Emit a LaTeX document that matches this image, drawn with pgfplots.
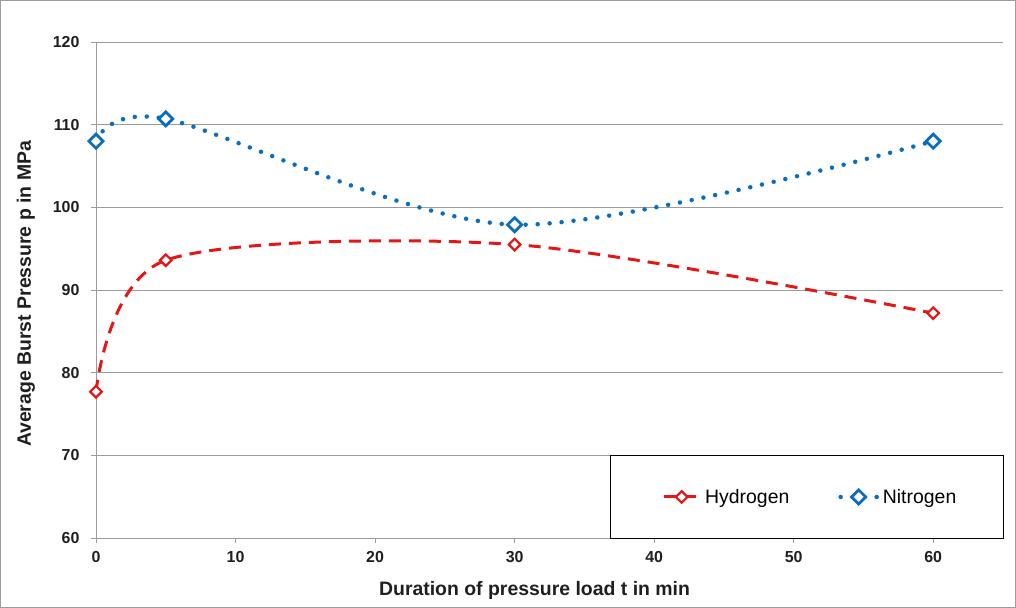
\documentclass[border=0pt]{standalone}
\usepackage{pgfplots}
\pgfplotsset{compat=1.18}
\usepackage{fontspec}
\setmainfont{Liberation Sans}
\definecolor{hred}{RGB}{228,22,22}
\definecolor{nblue}{RGB}{10,110,190}
\definecolor{gridgray}{RGB}{155,155,155}
\begin{document}
\begin{tikzpicture}[x=1bp,y=1bp]
\useasboundingbox (0,0) rectangle (1016,608);
\draw[gridgray,line width=0.8bp] (0.5,0.5) rectangle (1015.5,607.5);
\begin{axis}[
  at={(96bp,70bp)}, anchor=origin,
  width=907bp, height=496bp, scale only axis,
  xmin=0, xmax=65, ymin=60, ymax=120,
  xtick={0,10,...,60}, ytick={60,70,...,120},
  axis x line=bottom, axis y line=left,
  ymajorgrids, grid style={gridgray, line width=0.7bp},
  axis line style={gridgray, line width=0.8bp, -},
  tick style={gridgray, line width=0.8bp},
  tick align=outside, major tick length=5bp,
  /pgf/number format/assume math mode=true,
  ticklabel style={font=\fontsize{16}{18}\selectfont\bfseries, text=black!88},
  xticklabel style={anchor=base, yshift=-20bp},
  yticklabel style={anchor=east, xshift=-8bp},
  xlabel={Duration of pressure load t in min},
  ylabel={Average Burst Pressure p in MPa},
  label style={font=\fontsize{19.5}{22}\selectfont\bfseries, text=black!88},
  xlabel style={at={(axis description cs:0.4835,-0.1169)}, anchor=base},
  ylabel style={at={(axis description cs:-0.0772,0.492)}, anchor=center},
  clip=false,
  legend style={at={(axis description cs:0.6240,0.0827)}, anchor=west, draw=none, fill=none,
    inner xsep=0bp, inner ysep=0bp,
    font=\fontsize{19.5}{22}\selectfont, text=black,
    legend columns=2,
    nodes={inner xsep=4bp},
    /tikz/every even column/.append style={column sep=45bp}},
  legend cell align=left,
  legend image code/.code={%
    \draw[mark repeat=2,mark phase=2,#1] plot coordinates {(0bp,0bp) (18bp,0bp) (36bp,0bp)};},
]
\addplot[hred, line width=3bp, dash pattern=on 12bp off 8bp, smooth, tension=0.5,
  mark=square*, mark size=4.1bp, mark options={solid, rotate=45, fill=white, draw=hred, line width=2.2bp}]
  coordinates {(0,77.7) (5,93.6) (30,95.5) (60,87.2)};
\addlegendentry{Hydrogen}
\addplot[nblue, line width=4.5bp, dash pattern=on 0bp off 12bp, line cap=round, smooth, tension=0.5,
  mark=square*, mark size=5bp, mark options={solid, rotate=45, fill=white, draw=nblue, line width=2.8bp}]
  coordinates {(0,108) (5,110.7) (30,97.9) (60,108)};
\addlegendentry{Nitrogen}
\draw[black, line width=0.9bp] (rel axis cs:0.5667,0) rectangle (rel axis cs:1,0.1673);
\end{axis}
\end{tikzpicture}
\end{document}
